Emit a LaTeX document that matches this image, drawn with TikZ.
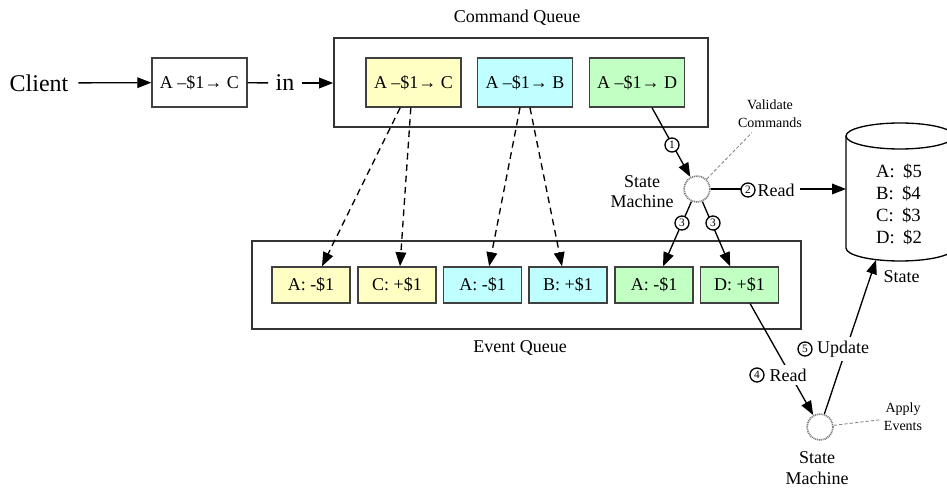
\documentclass[tikz,border=0pt]{standalone}
\usepackage{fontspec}
\setmainfont{Liberation Serif}
\usetikzlibrary{arrows.meta,calc}
\definecolor{cmdyel}{HTML}{FFFFC4}
\definecolor{cmdcyan}{HTML}{C0FFFF}
\definecolor{cmdgreen}{HTML}{C2FFC2}
\tikzset{
  arr/.style={-{Triangle[length=10.5pt,width=8pt]}, line width=1pt},
  darr/.style={arr, dash pattern=on 5pt off 3.5pt},
  plain/.style={line width=1pt},
  cbox/.style={draw=black!75, line width=1.1pt, minimum width=71.25pt, minimum height=36.75pt, inner sep=0pt, font=\fontsize{13.5}{16}\selectfont},
  ebox/.style={draw=black!75, line width=1.1pt, minimum width=58.5pt, minimum height=27pt, inner sep=0pt, font=\fontsize{13.5}{16}\selectfont},
  queue/.style={draw=black!80, line width=1.3pt, inner sep=0pt},
  num/.style={circle, draw, line width=1pt, fill=white, minimum size=10.5pt, inner sep=0pt, font=\fontsize{8.5}{9}\selectfont},
  smc/.style={circle, draw=gray, fill=white, line width=1.3pt, dash pattern=on 0.8pt off 0.6pt, minimum size=19.5pt, inner sep=0pt},
  lbl/.style={font=\fontsize{13.5}{15}\selectfont, align=center},
  elbl/.style={font=\fontsize{13.5}{15}\selectfont, fill=white, inner xsep=1.5pt, inner ysep=3pt},
  small/.style={font=\fontsize{10.5}{13.5}\selectfont, align=center},
  big/.style={font=\fontsize{18}{20}\selectfont},
  note/.style={draw=gray, line width=0.6pt, dash pattern=on 2.5pt off 1.5pt}
}
\begin{document}
\begin{tikzpicture}[x=0.75pt,y=-0.75pt]
\useasboundingbox (0,0) rectangle (947,488);
\clip (0,0) rectangle (947,488);

% client side
\node[big] (client) at (39,83) {Client};
\node[cbox] (b1) at (199.5,82.5) {A –\$1→ C};
\node[big, inner xsep=5.5pt] (in) at (285,83) {in};

% command queue
\node[queue, minimum width=280.5pt, minimum height=66.75pt] (cq) at (521,82.5) {};
\node[lbl] (cqt) at (517,18) {Command Queue};
\node[cbox, fill=cmdyel] (cY) at (413.5,82.5) {A –\$1→ C};
\node[cbox, fill=cmdcyan] (cC) at (525,82.5) {A –\$1→ B};
\node[cbox, fill=cmdgreen] (cG) at (637,82.5) {A –\$1→ D};

% event queue
\node[queue, minimum width=411.75pt, minimum height=66pt] (eq) at (526.5,285) {};
\node[lbl] (eqt) at (520,348) {Event Queue};
\node[ebox, fill=cmdyel] (e1) at (311,285) {A: -\$1};
\node[ebox, fill=cmdyel] (e2) at (397,285) {C: +\$1};
\node[ebox, fill=cmdcyan] (e3) at (482.5,285) {A: -\$1};
\node[ebox, fill=cmdcyan] (e4) at (568,285) {B: +\$1};
\node[ebox, fill=cmdgreen] (e5) at (654,285) {A: -\$1};
\node[ebox, fill=cmdgreen] (e6) at (739.5,285) {D: +\$1};

% state machines
\node[smc] (sm1) at (697,189) {};
\node[lbl] (sm1l) at (642,192) {State\\Machine};
\node[small] (val) at (770,114) {Validate\\Commands};
\node[smc] (sm2) at (820,427) {};
\node[font=\fontsize{13.5}{15.5}\selectfont, align=center] (sm2l) at (817,468) {State\\Machine};
\node[small] (app) at (903,417) {Apply\\Events};

% state store (cylinder)
\draw[line width=1pt, fill=white] (846,136) -- (846,248) arc[start angle=180, end angle=360, x radius=40.5pt, y radius=9.75pt] -- (954,136);
\draw[line width=1pt] (900,136) ellipse [x radius=40.5pt, y radius=9.75pt];
\node[font=\fontsize{14}{16.5}\selectfont, align=left] (dbt) at (899,204) {A:\hspace{0.45em}\$5\\B:\hspace{0.45em}\$4\\C:\hspace{0.45em}\$3\\D:\hspace{0.45em}\$2};
\node[lbl, anchor=west] (dbl) at (879,277) {State};
\coordinate (dbL) at (846,189);
\coordinate (dbB) at (876,260);

% connectors
\draw[arr, shorten <=4pt] (client) -- (b1);
\draw[plain] (b1) -- (in);
\draw[arr] (in) -- (in -| cq.west);

\draw[darr] ([xshift=-10pt]cY.south) -- ([xshift=8.25pt]e1.north);
\draw[darr] ([xshift=-2pt]cY.south) -- ([xshift=2.25pt]e2.north);
\draw[darr] ([xshift=-3.75pt]cC.south) -- ([xshift=5pt]e3.north);
\draw[darr] ([xshift=3.75pt]cC.south) -- ([xshift=-4.5pt]e4.north);

\draw[arr] ([xshift=11.25pt]cG.south) -- (sm1);
\draw[arr] (sm1) -- ([xshift=6.75pt]e5.north);
\draw[arr] (sm1) -- ([xshift=-7pt]e6.north);
\draw[arr] (sm1) -- (dbL);
\draw[arr] ([xshift=8pt]e6.south) -- (sm2);
\draw[arr] (sm2) -- (dbB);
\draw[note] (sm1) -- (val);
\draw[note] (sm2) -- (app);

% connector labels
\node[num] (n1) at (672,145) {1};
\node[elbl, inner xsep=4pt] (r2) at (776,190) {Read};
\node[num] (n2) at (748,190) {2};
\node[num] (n3a) at (682,223) {3};
\node[num] (n3b) at (713,223) {3};
\node[elbl] (r4) at (788,375) {Read};
\node[num] (n4) at (757,375) {4};
\node[elbl] (u5) at (843,349) {Update};
\node[num] (n5) at (805,349) {5};
\end{tikzpicture}
\end{document}
